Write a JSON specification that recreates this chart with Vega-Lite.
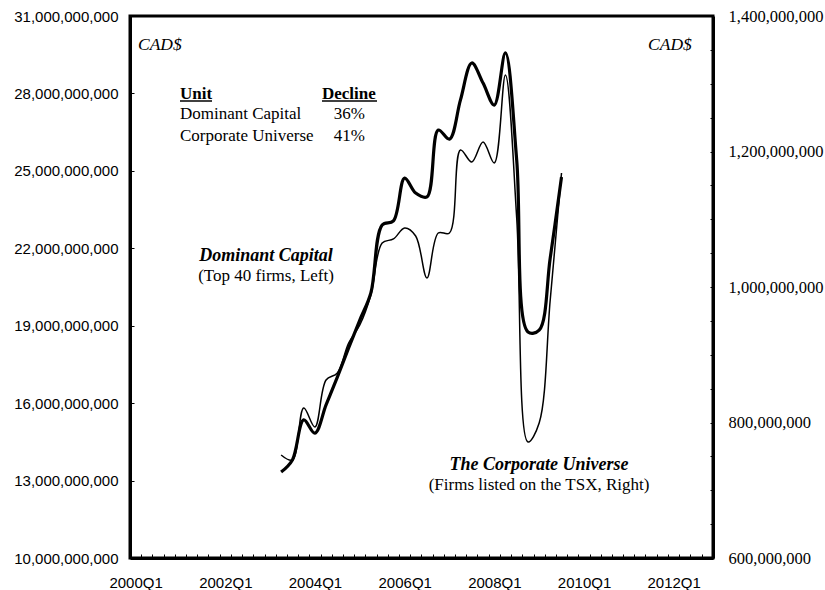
{
  "$schema": "https://vega.github.io/schema/vega-lite/v6.json",
  "width": 583,
  "height": 542,
  "autosize": {"type": "none"},
  "padding": {"left": 130, "top": 16, "right": 112, "bottom": 32},
  "background": "white",
  "config": {"view": {"stroke": "black", "strokeWidth": 3}, "font": "Liberation Serif"},
  "datasets": {
    "series": [
      {"quarter": "2003Q2", "date": "2003-05-16T00:00:00", "dc": 13330000000, "cu": 752000000},
      {"quarter": "2003Q3", "date": "2003-08-16T00:00:00", "dc": 13800000000, "cu": 744600000},
      {"quarter": "2003Q4", "date": "2003-11-16T00:00:00", "dc": 15350000000, "cu": 821400000},
      {"quarter": "2004Q1", "date": "2004-02-15T00:00:00", "dc": 14840000000, "cu": 793400000},
      {"quarter": "2004Q2", "date": "2004-05-16T00:00:00", "dc": 15930000000, "cu": 862700000},
      {"quarter": "2004Q3", "date": "2004-08-16T00:00:00", "dc": 17010000000, "cu": 873100000},
      {"quarter": "2004Q4", "date": "2004-11-16T00:00:00", "dc": 18140000000, "cu": 917300000},
      {"quarter": "2005Q1", "date": "2005-02-15T00:00:00", "dc": 19220000000, "cu": 943900000},
      {"quarter": "2005Q2", "date": "2005-05-16T00:00:00", "dc": 20270000000, "cu": 988200000},
      {"quarter": "2005Q3", "date": "2005-08-16T00:00:00", "dc": 22900000000, "cu": 1064900000},
      {"quarter": "2005Q4", "date": "2005-11-16T00:00:00", "dc": 23060000000, "cu": 1070900000},
      {"quarter": "2006Q1", "date": "2006-02-15T00:00:00", "dc": 24720000000, "cu": 1087100000},
      {"quarter": "2006Q2", "date": "2006-05-16T00:00:00", "dc": 24140000000, "cu": 1075300000},
      {"quarter": "2006Q3", "date": "2006-08-16T00:00:00", "dc": 23990000000, "cu": 1013300000},
      {"quarter": "2006Q4", "date": "2006-11-16T00:00:00", "dc": 26580000000, "cu": 1079700000},
      {"quarter": "2007Q1", "date": "2007-02-15T00:00:00", "dc": 26230000000, "cu": 1079700000},
      {"quarter": "2007Q2", "date": "2007-05-16T00:00:00", "dc": 27750000000, "cu": 1202200000},
      {"quarter": "2007Q3", "date": "2007-08-16T00:00:00", "dc": 29180000000, "cu": 1184500000},
      {"quarter": "2007Q4", "date": "2007-11-16T00:00:00", "dc": 28400000000, "cu": 1214000000},
      {"quarter": "2008Q1", "date": "2008-02-15T00:00:00", "dc": 27550000000, "cu": 1183000000},
      {"quarter": "2008Q2", "date": "2008-05-16T00:00:00", "dc": 29570000000, "cu": 1312900000},
      {"quarter": "2008Q3", "date": "2008-08-16T00:00:00", "dc": 25420000000, "cu": 1101800000},
      {"quarter": "2008Q4", "date": "2008-11-16T00:00:00", "dc": 18760000000, "cu": 771200000},
      {"quarter": "2009Q1", "date": "2009-02-15T00:00:00", "dc": 18830000000, "cu": 799300000},
      {"quarter": "2009Q2", "date": "2009-05-16T00:00:00", "dc": 21620000000, "cu": 980800000},
      {"quarter": "2009Q3", "date": "2009-08-16T00:00:00", "dc": 24760000000, "cu": 1168300000}
    ],
    "notes": [
      {"kind": "cad", "text": "CAD$", "date": "2000-03-06T00:00:00", "v": 29683000000},
      {"kind": "cad", "text": "CAD$", "date": "2011-07-22T00:00:00", "v": 29683000000},
      {"kind": "head", "text": "Unit", "date": "2001-02-11T00:00:00", "v": 27800000000},
      {"kind": "head", "text": "Decline", "date": "2004-04-13T00:00:00", "v": 27800000000},
      {"kind": "row", "text": "Dominant Capital", "date": "2001-02-11T00:00:00", "v": 26990000000},
      {"kind": "row", "text": "Corporate Universe", "date": "2001-02-11T00:00:00", "v": 26157000000},
      {"kind": "pct", "text": "36%", "date": "2005-03-29T00:00:00", "v": 26990000000},
      {"kind": "pct", "text": "41%", "date": "2005-03-29T00:00:00", "v": 26157000000},
      {"kind": "title", "text": "Dominant Capital", "date": "2003-01-13T00:00:00", "v": 21507000000},
      {"kind": "title", "text": "The Corporate Universe", "date": "2009-02-14T00:00:00", "v": 13410000000},
      {"kind": "sub", "text": "(Top 40 firms, Left)", "date": "2003-01-13T00:00:00", "v": 20733000000},
      {"kind": "sub", "text": "(Firms listed on the TSX, Right)", "date": "2009-02-14T00:00:00", "v": 12635000000}
    ],
    "underlines": [
      {"date": "2001-02-11T00:00:00", "date2": "2001-10-30T00:00:00", "v": 27707000000},
      {"date": "2004-04-13T00:00:00", "date2": "2005-07-05T00:00:00", "v": 27707000000}
    ]
  },
  "layer": [
    {
      "layer": [
        {
          "data": {"name": "series"},
          "mark": {"type": "line", "color": "black", "strokeWidth": 3.2, "interpolate": "catmull-rom"},
          "encoding": {
            "x": {
              "field": "date", "type": "temporal", "title": null,
              "scale": {"domain": [{"year": 2000, "month": 1, "date": 1}, {"year": 2013, "month": 1, "date": 1}], "nice": false},
              "axis": {
                "orient": "bottom", "tickCount": {"interval": "month", "step": 3},
                "labelExpr": "month(datum.value) === 0 && year(datum.value) % 2 === 0 ? year(datum.value) + 'Q1' : ''",
                "labelOffset": 5.6, "labelFlush": false, "labelOverlap": false, "labelBound": false,
                "tickSize": -4, "tickColor": "black", "tickWidth": 1, "labelPadding": 21,
                "labelFont": "Liberation Sans", "labelFontSize": 15, "labelColor": "black",
                "domainColor": "black", "domainWidth": 3, "grid": false
              }
            },
            "y": {
              "field": "dc", "type": "quantitative", "title": null,
              "scale": {"domain": [10000000000, 31000000000], "nice": false, "zero": false},
              "axis": {
                "orient": "left",
                "values": [10000000000, 11500000000, 13000000000, 14500000000, 16000000000, 17500000000, 19000000000, 20500000000, 22000000000, 23500000000, 25000000000, 26500000000, 28000000000, 29500000000, 31000000000],
                "labelExpr": "(datum.value - 10000000000) % 3000000000 === 0 ? format(datum.value, ',') : ''",
                "tickSize": -4, "tickColor": "black", "tickWidth": 1, "labelPadding": 16,
                "labelFont": "Liberation Sans", "labelFontSize": 15, "labelColor": "black",
                "labelOverlap": false, "labelFlush": false, "labelBound": false,
                "domainColor": "black", "domainWidth": 3, "grid": false
              }
            }
          }
        },
        {
          "data": {"name": "underlines"},
          "mark": {"type": "rule", "color": "black", "strokeWidth": 1.5},
          "encoding": {
            "x": {"field": "date", "type": "temporal"},
            "x2": {"field": "date2"},
            "y": {"field": "v", "type": "quantitative"}
          }
        },
        {
          "data": {"name": "notes"},
          "transform": [{"filter": "datum.kind === 'cad'"}],
          "mark": {"type": "text", "color": "black", "font": "Liberation Serif", "fontSize": 17.5, "fontStyle": "italic", "align": "left", "baseline": "alphabetic"},
          "encoding": {
            "x": {"field": "date", "type": "temporal"},
            "y": {"field": "v", "type": "quantitative"},
            "text": {"field": "text"}
          }
        },
        {
          "data": {"name": "notes"},
          "transform": [{"filter": "datum.kind === 'head'"}],
          "mark": {"type": "text", "color": "black", "font": "Liberation Serif", "fontSize": 17, "fontWeight": "bold", "align": "left", "baseline": "alphabetic"},
          "encoding": {
            "x": {"field": "date", "type": "temporal"},
            "y": {"field": "v", "type": "quantitative"},
            "text": {"field": "text"}
          }
        },
        {
          "data": {"name": "notes"},
          "transform": [{"filter": "datum.kind === 'row'"}],
          "mark": {"type": "text", "color": "black", "font": "Liberation Serif", "fontSize": 17, "align": "left", "baseline": "alphabetic"},
          "encoding": {
            "x": {"field": "date", "type": "temporal"},
            "y": {"field": "v", "type": "quantitative"},
            "text": {"field": "text"}
          }
        },
        {
          "data": {"name": "notes"},
          "transform": [{"filter": "datum.kind === 'pct'"}],
          "mark": {"type": "text", "color": "black", "font": "Liberation Serif", "fontSize": 17, "align": "right", "baseline": "alphabetic"},
          "encoding": {
            "x": {"field": "date", "type": "temporal"},
            "y": {"field": "v", "type": "quantitative"},
            "text": {"field": "text"}
          }
        },
        {
          "data": {"name": "notes"},
          "transform": [{"filter": "datum.kind === 'title'"}],
          "mark": {"type": "text", "color": "black", "font": "Liberation Serif", "fontSize": 18, "fontWeight": "bold", "fontStyle": "italic", "align": "center", "baseline": "alphabetic"},
          "encoding": {
            "x": {"field": "date", "type": "temporal"},
            "y": {"field": "v", "type": "quantitative"},
            "text": {"field": "text"}
          }
        },
        {
          "data": {"name": "notes"},
          "transform": [{"filter": "datum.kind === 'sub'"}],
          "mark": {"type": "text", "color": "black", "font": "Liberation Serif", "fontSize": 17, "align": "center", "baseline": "alphabetic"},
          "encoding": {
            "x": {"field": "date", "type": "temporal"},
            "y": {"field": "v", "type": "quantitative"},
            "text": {"field": "text"}
          }
        }
      ]
    },
    {
      "data": {"name": "series"},
      "mark": {"type": "line", "color": "black", "strokeWidth": 1.5, "interpolate": "catmull-rom"},
      "encoding": {
        "x": {"field": "date", "type": "temporal"},
        "y": {
          "field": "cu", "type": "quantitative", "title": null,
          "scale": {"domain": [600000000, 1400000000], "nice": false, "zero": false},
          "axis": {
            "orient": "right",
            "values": [600000000, 650000000, 700000000, 750000000, 800000000, 850000000, 900000000, 950000000, 1000000000, 1050000000, 1100000000, 1150000000, 1200000000, 1250000000, 1300000000, 1350000000, 1400000000],
            "labelExpr": "(datum.value - 600000000) % 200000000 === 0 ? format(datum.value, ',') : ''",
            "tickSize": -3, "tickColor": "black", "tickWidth": 1, "labelPadding": 18,
            "labelFont": "Liberation Serif", "labelFontSize": 16.5, "labelColor": "black",
            "labelOverlap": false, "labelFlush": false, "labelBound": false,
            "domainColor": "black", "domainWidth": 3, "grid": false
          }
        }
      }
    }
  ],
  "resolve": {"scale": {"y": "independent"}, "axis": {"y": "independent"}}
}
